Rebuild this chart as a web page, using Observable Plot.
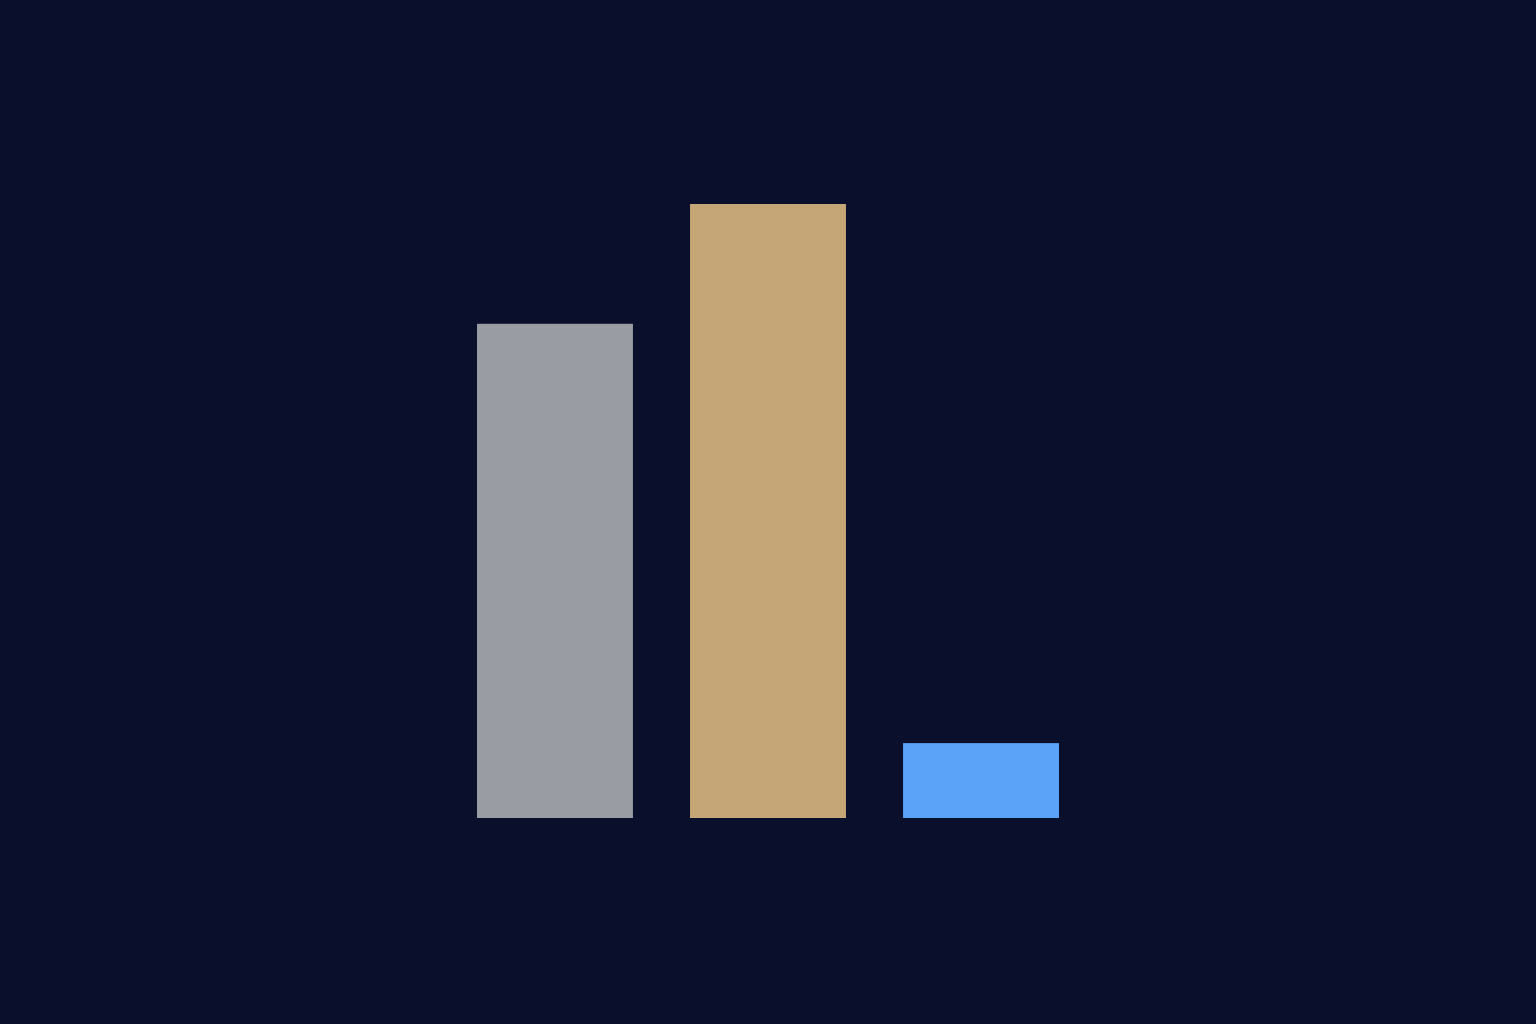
<!DOCTYPE html>
<html>
<head>
<meta charset="utf-8">
<script src="https://cdn.jsdelivr.net/npm/d3@7"></script>
<script src="https://cdn.jsdelivr.net/npm/@observablehq/plot@0.6"></script>
<style>
  html, body { margin: 0; padding: 0; background: #0a0f2b; overflow: hidden; }
  #chart svg { display: block; }
</style>
</head>
<body>
<div id="chart"></div>
<script>
const categories = ["A", "B", "C"];
const values = [6.6, 8.2, 1.0];
const colors = ["#9a9ca4", "#c4a677", "#5ba3f8"];

const data = categories.map((c, i) => ({category: c, value: values[i]}));

const chart = Plot.plot({
  width: 1536,
  height: 1024,
  marginLeft: 477,
  marginRight: 477,
  marginTop: 204,
  marginBottom: 206,
  style: {background: "#0a0f2b"},
  x: {domain: categories, paddingInner: 0.268, paddingOuter: 0, round: false, axis: null},
  y: {domain: [0, 8.2], axis: null},
  color: {domain: categories, range: colors},
  marks: [
    Plot.barY(data, {x: "category", y: "value", fill: "category"})
  ]
});
document.getElementById("chart").appendChild(chart);
</script>
</body>
</html>
